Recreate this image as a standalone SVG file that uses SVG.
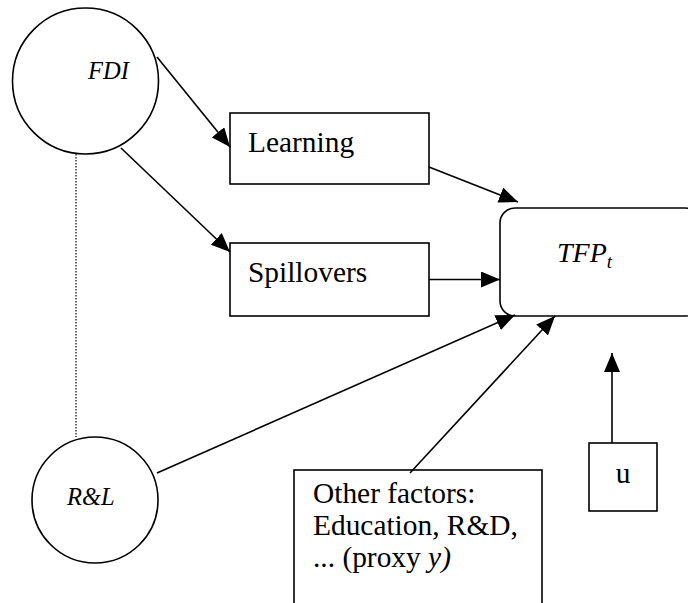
<svg xmlns="http://www.w3.org/2000/svg" width="688" height="603" viewBox="0 0 688 603">
<style>
.shape{fill:#fff;stroke:#000;stroke-width:1.6}
.conn{stroke:#000;stroke-width:1.6;fill:none}
</style>
<defs>
<marker id="ah" viewBox="0 0 19 16" refX="19" refY="8" markerWidth="19" markerHeight="16" markerUnits="userSpaceOnUse" orient="auto">
<path d="M0,0 L19,8 L0,16 z" fill="#000"/>
</marker>
</defs>
<rect width="688" height="603" fill="#fff"/>
<g font-family="'Liberation Serif', 'Times New Roman', 'DejaVu Serif', serif" fill="#000">
<g id="fdi">
<circle class="shape" cx="85.5" cy="81" r="73"/>
<text x="88" y="79" font-size="24.5" font-style="italic">FDI</text>
</g>
<g id="learning">
<rect class="shape" x="230" y="113" width="199" height="71"/>
<text x="248" y="152" font-size="29.4">Learning</text>
</g>
<g id="spillovers">
<rect class="shape" x="230" y="243" width="199" height="73"/>
<text x="248" y="282" font-size="29.4">Spillovers</text>
</g>
<g id="tfp">
<rect class="shape" x="500" y="208" width="200" height="108" rx="15" ry="15"/>
<text x="557" y="262" font-size="28" font-style="italic">TFP<tspan font-size="19" dy="6">t</tspan></text>
</g>
<g id="rl">
<circle class="shape" cx="95" cy="500" r="63"/>
<text x="67" y="505" font-size="24.5" font-style="italic">R&amp;L</text>
</g>
<g id="other">
<rect class="shape" x="294" y="470" width="248" height="150"/>
<text font-size="29.4"><tspan x="313" y="503">Other factors:</tspan><tspan x="313" y="535">Education, R&amp;D,</tspan><tspan x="313" y="567">... (proxy <tspan font-style="italic">y)</tspan></tspan></text>
</g>
<g id="u">
<rect class="shape" x="589" y="443" width="68" height="68"/>
<text x="623" y="483" font-size="29.4" text-anchor="middle">u</text>
</g>
</g>
<g id="connectors">
<line class="conn" x1="157" y1="57" x2="230" y2="147" marker-end="url(#ah)"/>
<line class="conn" x1="121" y1="148" x2="230" y2="252" marker-end="url(#ah)"/>
<line class="conn" x1="429" y1="167" x2="518" y2="202" marker-end="url(#ah)"/>
<line class="conn" x1="429" y1="279.5" x2="500" y2="279.5" marker-end="url(#ah)"/>
<line class="conn" x1="157" y1="473" x2="515" y2="315" marker-end="url(#ah)"/>
<line class="conn" x1="410" y1="473" x2="555" y2="316" marker-end="url(#ah)"/>
<line class="conn" x1="612" y1="443" x2="612" y2="353" marker-end="url(#ah)"/>
<line x1="76" y1="154" x2="76" y2="437" stroke="#000" stroke-width="1.2" stroke-dasharray="1.5,1.5"/>
</g>
</svg>
